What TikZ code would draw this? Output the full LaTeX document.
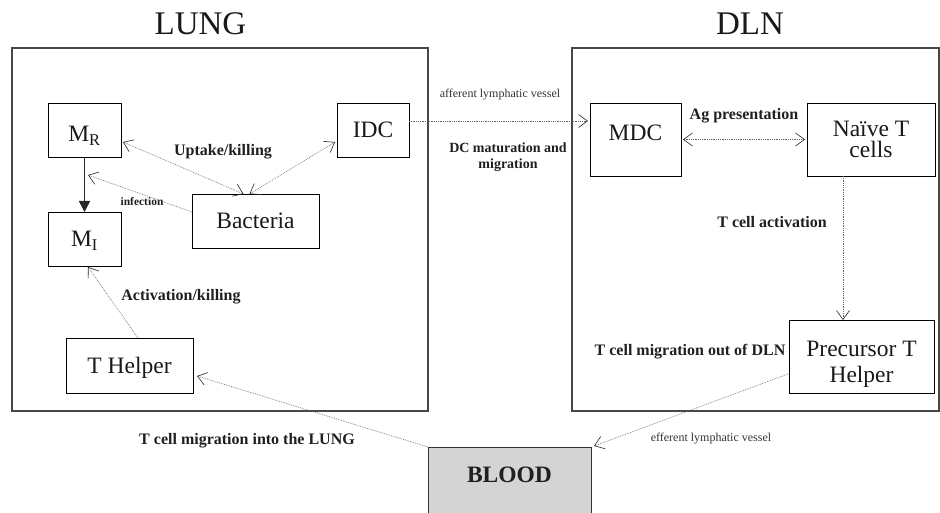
\documentclass[tikz,border=0pt]{standalone}
\usepackage{fontspec}
\setmainfont{Liberation Serif}
\usetikzlibrary{arrows.meta,calc}
\definecolor{bloodgray}{RGB}{212,212,212}
\begin{document}
\begin{tikzpicture}[x=1pt,y=-1pt,
  vtip/.tip={Straight Barb[length=9pt,width=13pt,line width=0.6pt,color=black!85]},
  region/.style={draw=black!72,line width=1.4pt,outer sep=0pt,inner sep=0pt},
  cell/.style={draw=black,line width=0.9pt,fill=white,outer sep=0pt,inner sep=0pt,
    font=\fontsize{23.5}{28}\selectfont,text=black!90,text height=15.6pt,text depth=0pt},
  cell2/.style={cell,align=center,text depth=0pt},
  title/.style={font=\fontsize{33}{36}\selectfont,text=black!90,inner sep=0pt,anchor=base},
  lbl/.style={font=\fontsize{16}{18}\selectfont\bfseries,text=black!88,inner sep=0pt,
    text height=10.6pt,text depth=0pt},
  small/.style={font=\fontsize{12}{14}\selectfont,text=black!80,inner sep=0pt,
    text height=8pt,text depth=0pt},
  conn/.style={draw=black!60,line width=0.6pt,dash pattern=on 0.8pt off 1pt},
  solidarrow/.style={draw=black!85,line width=1.6pt,-{Triangle[length=11pt,width=11pt]}}
]
\useasboundingbox (0,0) rectangle (940,513);

% regions
\node[region,minimum width=416pt,minimum height=363pt,anchor=north west] (lung) at (12,48) {};
\node[region,minimum width=367pt,minimum height=363pt,anchor=north west] (dln) at (572,48) {};
\node[title] (lungt) at (200.5,35) {LUNG};
\node[title] (dlnt) at (750,35) {DLN};

% LUNG cells
\node[cell,minimum width=73pt,minimum height=54pt] (mr) at (84.5,130) {\raisebox{-4pt}{M\textsubscript{R}}};
\node[cell,minimum width=72pt,minimum height=54pt] (idc) at (373,130) {IDC};
\node[cell,minimum width=127pt,minimum height=54pt] (bac) at (255.5,221) {Bacteria};
\node[cell,minimum width=73pt,minimum height=54pt] (mi) at (84.5,239) {M\textsubscript{I}};
\node[cell,minimum width=127pt,minimum height=55pt] (th) at (129.5,365.5) {T Helper};

% DLN cells
\node[cell,minimum width=91pt,minimum height=73pt] (mdc) at (635.5,139.5) {\raisebox{6.5pt}{MDC}};
\node[cell2,minimum width=128pt,minimum height=73pt,font=\fontsize{23.5}{21.5}\selectfont,text height=37pt] (naive) at (871,139.5) {Naïve T\\cells};
\node[cell2,minimum width=145pt,minimum height=73pt,font=\fontsize{23.5}{26.7}\selectfont,text height=52.4pt] (prec) at (861.5,356.5) {Precursor T\\Helper};

% BLOOD
\node[fill=bloodgray,minimum width=163pt,minimum height=66pt,inner sep=0pt,outer sep=0pt,
  font=\fontsize{23.5}{28}\selectfont\bfseries,text=black!88,text height=15.6pt,text depth=0pt] (blood) at (509.5,480) {\raisebox{5pt}{BLOOD}};
\draw[black!80,line width=1pt] (blood.south west) -- (blood.north west) -- (blood.north east) -- (blood.south east);

% labels
\node[lbl] (l1) at (223,150) {Uptake/killing};
\node[lbl,font=\fontsize{11.5}{13}\selectfont\bfseries,text height=7.6pt] (l2) at (142,202) {infection};
\node[lbl] (l3) at (181,295) {Activation/killing};
\node[lbl] (l4) at (247,439) {T cell migration into the LUNG};
\node[small] (l5) at (500,94) {afferent lymphatic vessel};
\node[lbl,font=\fontsize{14}{16}\selectfont\bfseries,align=center,anchor=base,text height=26pt,text depth=4pt] (l6) at (508,169) {DC maturation and\\migration};
\node[lbl] (l7) at (744,114) {Ag presentation};
\node[lbl] (l8) at (772,222) {T cell activation};
\node[lbl] (l9) at (690,350) {T cell migration out of DLN};
\node[small] (l10) at (711,437) {efferent lymphatic vessel};

% connectors
\coordinate (inf) at (88,175);
\draw[conn,vtip-vtip] ($(mr.east)+(2,12)$) -- ($(bac.north)+(-12,0)$);
\draw[conn,vtip-vtip] ($(idc.west)+(-2,12)$) -- ($(bac.north)+(-6,0)$);
\draw[conn,-vtip] ($(bac.west)+(0,-9)$) -- (inf);
\draw[solidarrow] (mr.south) -- (mi.north);
\draw[conn,-vtip] ($(th.north)+(8.5,0)$) -- ($(mi.south)+(3.5,1)$);
\draw[conn,-vtip] ($(idc.east)+(0,-9)$) -- ($(mdc.west)+(-2,-18.5)$);
\draw[conn,vtip-vtip] ($(mdc.east)+(2,0)$) -- ($(naive.west)+(-2,0)$);
\coordinate (nb) at ($(naive.south)+(-28,0)$);
\draw[conn,-vtip] (nb) -- (nb |- prec.north);
\draw[conn,-vtip] ($(prec.west)+(-1,17.5)$) -- ($(blood.north east)+(3,-1)$);
\draw[conn,-vtip] (blood.north west) -- ($(th.east)+(4,10.5)$);
\end{tikzpicture}
\end{document}
